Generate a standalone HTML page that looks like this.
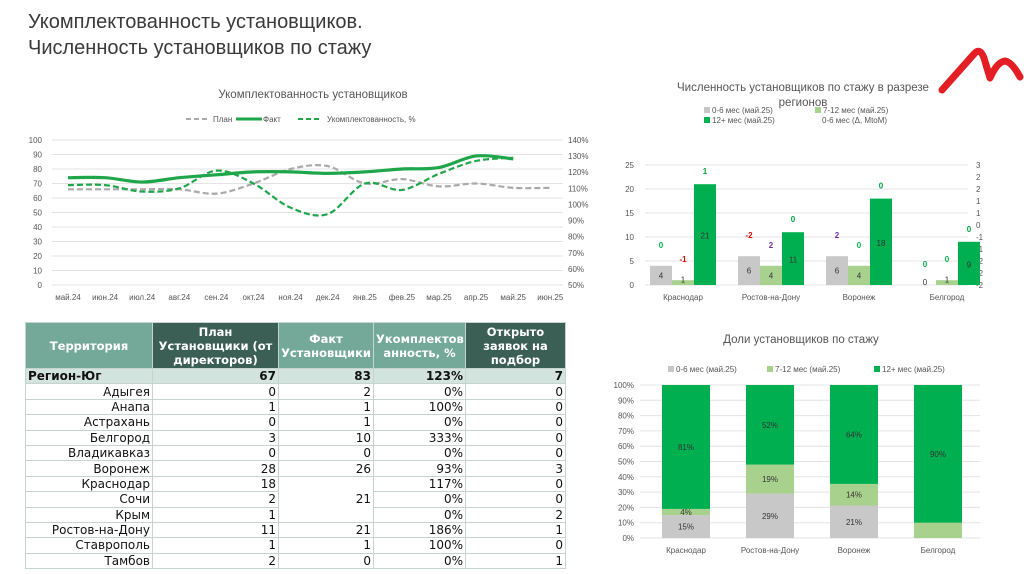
<!DOCTYPE html>
<html><head><meta charset="utf-8">
<style>
body{margin:0;width:1024px;height:574px;background:#fff;overflow:hidden;font-family:"Liberation Sans","DejaVu Sans",sans-serif;position:relative}
.title{position:absolute;left:28px;top:9px;font-size:20px;line-height:26px;color:#3a3a3a}
svg{position:absolute;left:0;top:0}
table{position:absolute;left:25px;top:322px;width:540px;table-layout:fixed;border-collapse:collapse;font-size:12px;font-family:"DejaVu Sans","Liberation Sans",sans-serif;color:#111}
td,th{border:1px solid #c8d3cf;padding:0 2px;height:14.4px;line-height:14px;text-align:right;overflow:hidden;white-space:nowrap}
th{color:#fff;font-weight:bold;text-align:center;height:45px;line-height:14px;font-size:11.5px}
th.t{background:#74a999}th.d{background:#3c5f55}
tr.reg td{background:#d3e3dd;font-weight:bold}
</style></head><body>
<div class="title">Укомплектованность установщиков.<br>Численность установщиков по стажу</div>
<svg width="1024" height="574" id="svg">
<path d="M942 90 Q958 72 974 54 Q980 47 984 58 L990 78 Q997 62 1005 61 Q1012 62 1020 77" stroke="#e31e24" stroke-width="7" fill="none" stroke-linecap="round" stroke-linejoin="round"/>
</svg>
<table>
<colgroup><col style="width:127px"><col style="width:126px"><col style="width:95px"><col style="width:92px"><col style="width:100px"></colgroup>
<tr><th class="t">Территория</th><th class="d">План<br>Установщики (от<br>директоров)</th><th class="t">Факт<br>Установщики</th><th class="t">Укомплектов<br>анность, %</th><th class="d">Открыто<br>заявок на<br>подбор</th></tr>
<tr class="reg"><td style="text-align:left">Регион-Юг</td><td>67</td><td>83</td><td>123%</td><td>7</td></tr>
<tr><td>Адыгея</td><td>0</td><td>2</td><td>0%</td><td>0</td></tr>
<tr><td>Анапа</td><td>1</td><td>1</td><td>100%</td><td>0</td></tr>
<tr><td>Астрахань</td><td>0</td><td>1</td><td>0%</td><td>0</td></tr>
<tr><td>Белгород</td><td>3</td><td>10</td><td>333%</td><td>0</td></tr>
<tr><td>Владикавказ</td><td>0</td><td>0</td><td>0%</td><td>0</td></tr>
<tr><td>Воронеж</td><td>28</td><td>26</td><td>93%</td><td>3</td></tr>
<tr><td>Краснодар</td><td>18</td><td rowspan="3">21</td><td>117%</td><td>0</td></tr>
<tr><td>Сочи</td><td>2</td><td>0%</td><td>0</td></tr>
<tr><td>Крым</td><td>1</td><td>0%</td><td>2</td></tr>
<tr><td>Ростов-на-Дону</td><td>11</td><td>21</td><td>186%</td><td>1</td></tr>
<tr><td>Ставрополь</td><td>1</td><td>1</td><td>100%</td><td>0</td></tr>
<tr><td>Тамбов</td><td>2</td><td>0</td><td>0%</td><td>1</td></tr>
</table>
<script>
const months=["май.24","июн.24","июл.24","авг.24","сен.24","окт.24","ноя.24","дек.24","янв.25","фев.25","мар.25","апр.25","май.25","июн.25"];
const planVals=[66,66,66,66,63,70,80,82,70,73,68,70,67,67];
const factVals=[74,74,71,74,76,78,78,77,78,80,81,89,87];
const pctVals=[112,112,108,110,121,113,98,94,113,109,119,127,129];
const regions=["Краснодар","Ростов-на-Дону","Воронеж","Белгород"];
const s06=[4,6,6,0];
const s712=[1,4,4,1];
const s12=[21,11,18,9];
const d06=[0,-2,2,0];
const d712=[-1,2,0,0];
const d12=[1,0,0,0];
const share06=[15,29,21,0];
const share712=[4,19,14,10];
const share12=[81,52,64,90];

const svg=document.getElementById('svg');const NS='http://www.w3.org/2000/svg';
function el(t,a,txt){const e=document.createElementNS(NS,t);for(const k in a)e.setAttribute(k,a[k]);if(txt!==undefined)e.textContent=txt;svg.appendChild(e);return e;}
function T(x,y,s,o={}){return el('text',Object.assign({x:x,y:y,'font-size':9,fill:'#555','text-anchor':'middle','font-family':'Liberation Sans, sans-serif'},o),s);}
function smooth(p){let d='M'+p[0][0]+' '+p[0][1];for(let i=0;i<p.length-1;i++){const a=p[i-1]||p[i],b=p[i],c=p[i+1],e=p[i+2]||c;d+=` C${b[0]+(c[0]-a[0])/6} ${b[1]+(c[1]-a[1])/6} ${c[0]-(e[0]-b[0])/6} ${c[1]-(e[1]-b[1])/6} ${c[0]} ${c[1]}`;}return d;}

// line chart
const lx=i=>68+i*37.1, ly=v=>285-v*1.45, ry=v=>285-(v-50)*145/90;
T(313,98,'Укомплектованность установщиков',{'font-size':11.5,fill:'#555'});
for(let v=0;v<=100;v+=10){const g=el('line',{x1:52,x2:563,y1:ly(v),y2:ly(v),stroke:'#e3e3e3'});T(42,ly(v)+3,String(v),{'text-anchor':'end','font-size':8});}
for(let v=50;v<=140;v+=10){const t=T(568,ry(v)+3,v+'%',{'text-anchor':'start','font-size':8});}
months.forEach((m,i)=>{const t=T(lx(i),300,m,{'font-size':8});});
let p=el('path',{d:smooth(planVals.map((v,i)=>[lx(i),ly(v)])),fill:'none',stroke:'#aaa','stroke-width':2.2,'stroke-dasharray':'6 3'});
p=el('path',{d:smooth(factVals.map((v,i)=>[lx(i),ly(v)])),fill:'none',stroke:'#1fa64a','stroke-width':3.2});
p=el('path',{d:smooth(pctVals.map((v,i)=>[lx(i),ry(v)])),fill:'none',stroke:'#1fa64a','stroke-width':2.2,'stroke-dasharray':'6 3'});
el('line',{x1:186,x2:208,y1:119,y2:119,stroke:'#aaa','stroke-width':2,'stroke-dasharray':'5 3'});T(213,122,'План',{'text-anchor':'start','font-size':8});
el('line',{x1:236,x2:262,y1:119,y2:119,stroke:'#1fa64a','stroke-width':3});T(263,122,'Факт',{'text-anchor':'start','font-size':8});
el('line',{x1:298,x2:322,y1:119,y2:119,stroke:'#1fa64a','stroke-width':2,'stroke-dasharray':'5 3'});T(327,122,'Укомплектованность, %',{'text-anchor':'start','font-size':8});

// bar chart
const by=v=>285-v*4.8, bc=i=>683+i*88;
T(803,91,'Численность установщиков по стажу в разрезе',{'font-size':11.5,fill:'#555'});
T(803,106,'регионов',{'font-size':11.5,fill:'#555'});
el('rect',{x:704,y:107,width:6,height:6,fill:'#c8c8c8'});T(712,113,'0-6 мес (май.25)',{'text-anchor':'start','font-size':8});
el('rect',{x:815,y:107,width:6,height:6,fill:'#a9d18e'});T(823,113,'7-12 мес (май.25)',{'text-anchor':'start','font-size':8});
el('rect',{x:704,y:117,width:6,height:6,fill:'#00b050'});T(712,123,'12+ мес (май.25)',{'text-anchor':'start','font-size':8});
T(822,123,'0-6 мес (Δ, MtoM)',{'text-anchor':'start','font-size':8});
for(let v=0;v<=25;v+=5){el('line',{x1:645,x2:968,y1:by(v),y2:by(v),stroke:'#e3e3e3'});T(634,by(v)+3,String(v),{'text-anchor':'end','font-size':8});}
["3","2","2","1","1","0","-1","-1","-2","-2","-2"].forEach((s,i)=>T(976,168+i*12,s,{'text-anchor':'start','font-size':8}));
function dc(v,k){return v<0?'#e00000':(k==2?'#00a040':(v>0?'#7030a0':'#00b050'));}
regions.forEach((r,i)=>{
  const c=bc(i);[[s06,'#c8c8c8',-22,d06],[s712,'#a9d18e',0,d712],[s12,'#00b050',22,d12]].forEach(([arr,col,off,d],k)=>{
    const x=c+off-11,v=arr[i];const b=el('rect',{x:x,y:by(v),width:22,height:v*4.8,fill:col});
    T(c+off,k==2?by(v)+v*2.4+4:by(v/2)+3+(v<2?-3:0),String(v),{'font-size':8,fill:'#333'});
    T(c+off,by(v)-(k==2?10:18),String(d[i]),{'font-size':8,'font-weight':'bold',fill:dc(d[i],k)});
  });
  T(c,300,r,{'font-size':8});
});

// stacked chart
const sy=v=>538-v*1.53, sc=i=>686+i*84;
T(801,343,'Доли установщиков по стажу',{'font-size':11.5,fill:'#555'});
[['#c8c8c8','0-6 мес (май.25)',668],['#a9d18e','7-12 мес (май.25)',767],['#00b050','12+ мес (май.25)',874]].forEach(([c,t,x])=>{el('rect',{x:x,y:366,width:6,height:6,fill:c});T(x+8,372,t,{'text-anchor':'start','font-size':8});});
for(let v=0;v<=100;v+=10){el('line',{x1:640,x2:980,y1:sy(v),y2:sy(v),stroke:'#e3e3e3'});T(634,sy(v)+3,v+'%',{'text-anchor':'end','font-size':8});}
regions.forEach((r,i)=>{
  const tot=share06[i]+share712[i]+share12[i];
  let base=0;[[share06,'#c8c8c8'],[share712,'#a9d18e'],[share12,'#00b050']].forEach(([arr,col],k)=>{
    const v=arr[i]*100/tot;const b=el('rect',{x:sc(i)-24,y:sy(base+v),width:48,height:v*1.53,fill:col});
    if(arr[i]>0&&(i!=3||k==2)) T(sc(i),sy(base+v/2)+3,arr[i]+'%',{'font-size':8,fill:'#333'});
    base+=v;});
  T(sc(i),553,r,{'font-size':8});
});
</script>
</body></html>
